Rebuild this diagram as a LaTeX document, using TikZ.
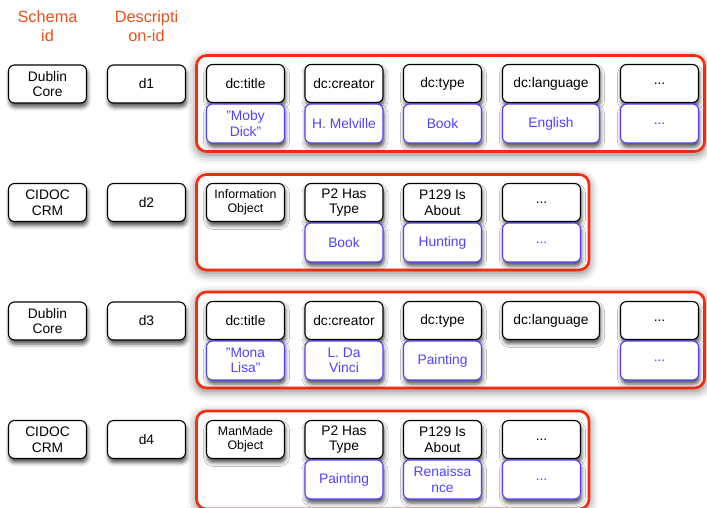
\documentclass[tikz,border=0pt]{standalone}
\usepackage{fontspec}
\setmainfont{Liberation Sans}
\usepackage{tikz}
\usetikzlibrary{shadows.blur}
\definecolor{hdorange}{RGB}{232,82,28}
\definecolor{frred}{RGB}{252,42,12}
\definecolor{valblue}{RGB}{82,66,255}

\tikzset{
  idbox/.style={draw=black, line width=1.1pt, rounded corners=6pt, fill=white,
    minimum width=78pt, minimum height=38pt, inner sep=1pt, align=center,
    font=\fontsize{13.8}{15.5}\selectfont,
    blur shadow={shadow xshift=1pt, shadow yshift=-4pt, shadow blur radius=4pt, shadow opacity=70}},
  propbox/.style={idbox},
  valbox/.style={idbox, draw=valblue, text=valblue, minimum height=39pt},
  smalltxt/.style={font=\fontsize{12.4}{14}\selectfont},
  headtxt/.style={text=hdorange, align=center, font=\fontsize{16.3}{18.5}\selectfont},
  rowframe/.style={draw=frred, line width=2.6pt, rounded corners=10pt, fill=white,
    blur shadow={shadow xshift=0pt, shadow yshift=-3pt, shadow blur radius=9pt, shadow opacity=55}}
}

\begin{document}
\begin{tikzpicture}[x=1pt,y=-1pt]
  \useasboundingbox (0,0) rectangle (707,507);

  % column heads
  \node[headtxt] (hschema) at (47.5,26) {Schema\\id};
  \node[headtxt] (hdesc) at (146.5,26) {Descripti\\on-id};

  % frames first
  \draw[rowframe] (196.5,55.5) rectangle (704.5,151.5);
  \draw[rowframe] (196.5,174.5) rectangle (589,270);
  \draw[rowframe] (196.5,292) rectangle (704.5,388);
  \draw[rowframe] (196.5,411) rectangle (589,509);

  % row 1
  \node[idbox] (s1) at (47.5,84) {Dublin\\Core};
  \node[idbox] (d1) at (146.5,84) {d1};
  \node[propbox] (p11) at (245.5,83.5) {dc:title};
  \node[propbox] (p12) at (344,83.5) {dc:creator};
  \node[propbox] (p13) at (442.5,83.5) {dc:type};
  \node[propbox, minimum width=97pt] (p14) at (551,83.5) {dc:language};
  \node[propbox] (p15) at (659.5,83.5) {...};
  \node[valbox] (v11) at (245.5,123.5) {"Moby\\Dick"};
  \node[valbox] (v12) at (344,123.5) {H. Melville};
  \node[valbox] (v13) at (442.5,123.5) {Book};
  \node[valbox, minimum width=97pt] (v14) at (551,123.5) {English};
  \node[valbox] (v15) at (659.5,123.5) {...};

  % row 2
  \node[idbox] (s2) at (47.5,202.5) {CIDOC\\CRM};
  \node[idbox] (d2) at (146.5,202.5) {d2};
  \node[propbox, smalltxt] (p21) at (245.5,202.5) {Information\\Object};
  \node[propbox] (p22) at (344,202.5) {P2 Has\\Type};
  \node[propbox] (p23) at (442.5,202.5) {P129 Is\\About};
  \node[propbox] (p24) at (541.5,202.5) {...};
  \node[valbox] (v22) at (344,242.5) {Book};
  \node[valbox] (v23) at (442.5,242.5) {Hunting};
  \node[valbox] (v24) at (541.5,242.5) {...};

  % row 3
  \node[idbox] (s3) at (47.5,321) {Dublin\\Core};
  \node[idbox] (d3) at (146.5,321) {d3};
  \node[propbox] (p31) at (245.5,320.5) {dc:title};
  \node[propbox] (p32) at (344,320.5) {dc:creator};
  \node[propbox] (p33) at (442.5,320.5) {dc:type};
  \node[propbox, minimum width=97pt] (p34) at (551,320.5) {dc:language};
  \node[propbox] (p35) at (659.5,320.5) {...};
  \node[valbox] (v31) at (245.5,360.5) {"Mona\\Lisa"};
  \node[valbox] (v32) at (344,360.5) {L. Da\\Vinci};
  \node[valbox] (v33) at (442.5,360.5) {Painting};
  \node[valbox] (v35) at (659.5,360.5) {...};

  % row 4
  \node[idbox] (s4) at (47.5,439.5) {CIDOC\\CRM};
  \node[idbox] (d4) at (146.5,439.5) {d4};
  \node[propbox, smalltxt] (p41) at (245.5,439.5) {ManMade\\Object};
  \node[propbox] (p42) at (344,439.5) {P2 Has\\Type};
  \node[propbox] (p43) at (442.5,439.5) {P129 Is\\About};
  \node[propbox] (p44) at (541.5,439.5) {...};
  \node[valbox] (v42) at (344,479.5) {Painting};
  \node[valbox] (v43) at (442.5,479.5) {Renaissa\\nce};
  \node[valbox] (v44) at (541.5,479.5) {...};
\end{tikzpicture}
\end{document}
